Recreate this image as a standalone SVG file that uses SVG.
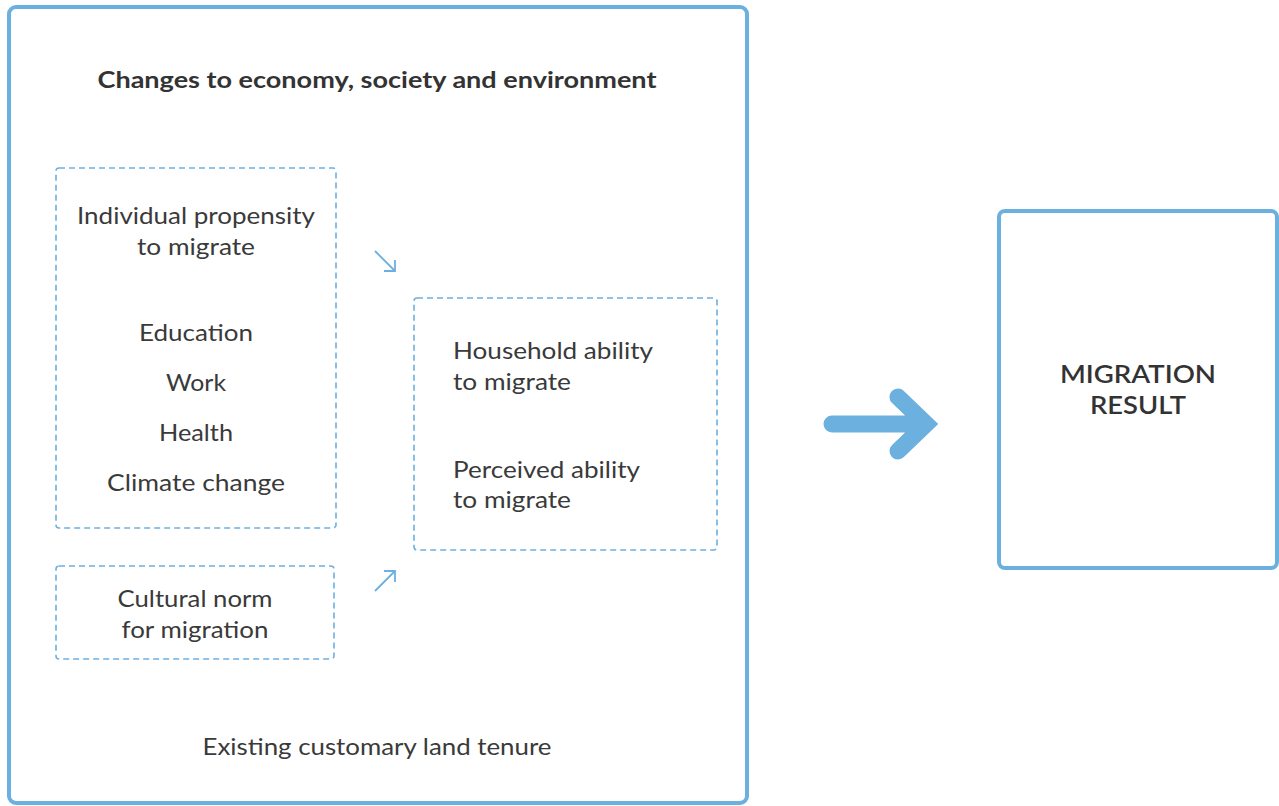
<svg xmlns="http://www.w3.org/2000/svg" width="1279" height="806" viewBox="0 0 1279 806">
<style>
.solid{fill:#fff;stroke:#6cb0e0;stroke-width:4}
.dash{fill:none;stroke:#6cb0e0;stroke-width:1.6;stroke-dasharray:6 4}
text{font-family:Lato,"Noto Sans",sans-serif;fill:#3a3a3a}
.t{font-size:23px;text-anchor:middle}
.tl{font-size:23px}
.b{font-size:22px;font-weight:bold;fill:#333;text-anchor:middle}
.sm{fill:none;stroke:#6cb0e0;stroke-width:1.8}
</style>
<rect width="1279" height="806" fill="#fff"/>
<g id="outer">
<rect class="solid" x="9" y="7" width="738" height="796" rx="7"/>
<text class="b" x="377" y="88" textLength="559" lengthAdjust="spacingAndGlyphs">Changes to economy, society and environment</text>
<text class="t" x="377" y="755" textLength="349" lengthAdjust="spacingAndGlyphs">Existing customary land tenure</text>
</g>
<g id="individual">
<rect class="dash" x="56" y="168" width="280" height="360" rx="3"/>
<text class="t" x="196" y="224" textLength="238" lengthAdjust="spacingAndGlyphs">Individual propensity</text>
<text class="t" x="196" y="255" textLength="118" lengthAdjust="spacingAndGlyphs">to migrate</text>
<text class="t" x="196" y="341" textLength="114" lengthAdjust="spacingAndGlyphs">Education</text>
<text class="t" x="196" y="391" textLength="60" lengthAdjust="spacingAndGlyphs">Work</text>
<text class="t" x="196" y="441" textLength="74" lengthAdjust="spacingAndGlyphs">Health</text>
<text class="t" x="196" y="491" textLength="178" lengthAdjust="spacingAndGlyphs">Climate change</text>
</g>
<g id="cultural">
<rect class="dash" x="56" y="566" width="278" height="93" rx="3"/>
<text class="t" x="195" y="607" textLength="155" lengthAdjust="spacingAndGlyphs">Cultural norm</text>
<text class="t" x="195" y="638" textLength="147" lengthAdjust="spacingAndGlyphs">for migration</text>
</g>
<g id="household">
<rect class="dash" x="414" y="298" width="303" height="252" rx="3"/>
<text class="tl" x="453" y="359" textLength="200" lengthAdjust="spacingAndGlyphs">Household ability</text>
<text class="tl" x="453" y="390" textLength="118" lengthAdjust="spacingAndGlyphs">to migrate</text>
<text class="tl" x="453" y="478" textLength="187" lengthAdjust="spacingAndGlyphs">Perceived ability</text>
<text class="tl" x="453" y="508" textLength="118" lengthAdjust="spacingAndGlyphs">to migrate</text>
</g>
<g id="result">
<rect class="solid" x="999" y="211" width="278" height="357" rx="6"/>
<text class="b" x="1138" y="383" style="font-size:24px;font-weight:600" textLength="156" lengthAdjust="spacingAndGlyphs">MIGRATION</text>
<text class="b" x="1138" y="414" style="font-size:24px;font-weight:600" textLength="96" lengthAdjust="spacingAndGlyphs">RESULT</text>
</g>
<g id="connectors">
<path class="sm" d="M375 251 L395 271 M384 271 L395 271 L395 260"/>
<path class="sm" d="M375 591 L395 571 M384 571 L395 571 L395 582"/>
<path d="M832 424 L926 424 M898 397 L926 424 L898 451" fill="none" stroke="#6cb0e0" stroke-width="17" stroke-linecap="round" stroke-linejoin="miter"/>
</g>
</svg>
